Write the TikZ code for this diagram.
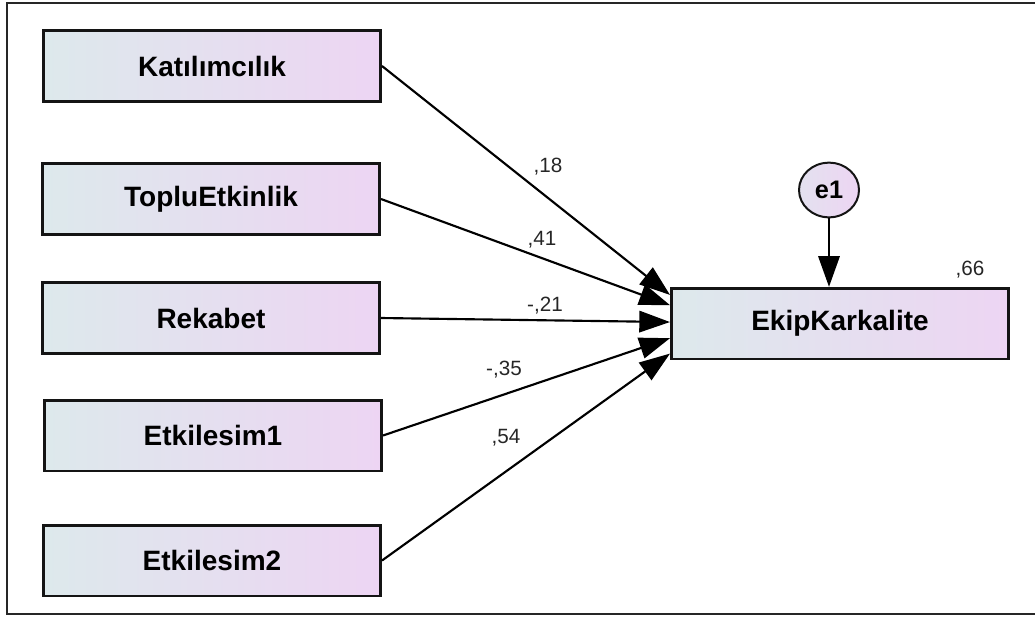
\documentclass[tikz,border=0pt]{standalone}
\usepackage{fontspec}
\setmainfont{Liberation Sans}
\usetikzlibrary{arrows.meta,shapes.geometric,calc}
\definecolor{boxleft}{RGB}{221,233,236}
\definecolor{boxright}{RGB}{237,213,243}
\definecolor{edgegray}{RGB}{20,20,20}

\begin{document}
\begin{tikzpicture}[x=0.75pt,y=-0.75pt,
	var/.style={draw=edgegray, line width=2pt, left color=boxleft, right color=boxright,
		minimum width=253pt, minimum height=53pt, inner sep=0pt, font=\fontsize{21}{24}\selectfont\bfseries},
	err/.style={ellipse, draw=edgegray, line width=1.5pt, left color=boxleft!60!boxright, right color=boxright,
		minimum width=45pt, minimum height=41pt, inner sep=0pt, font=\fontsize{19}{22}\selectfont\bfseries},
	coef/.style={inner sep=0pt, font=\fontsize{15.5}{18}\selectfont, text=black!85},
	path/.style={line width=1.6pt, -{Triangle[length=23pt,width=16pt]}}]
	\useasboundingbox (0,0) rectangle (1035,619);
	\draw[line width=1.1pt, black!85] (7,3) rectangle (1045,614);

	\node[var] (p1) at (212,66) {Katılımcılık};
	\node[var] (p2) at (211,199) {TopluEtkinlik};
	\node[var] (p3) at (211,318) {Rekabet};
	\node[var] (p4) at (213,435.5) {Etkilesim1};
	\node[var] (p5) at (212,560.5) {Etkilesim2};
	\node[var] (ekip) at (840,323.5) {EkipKarkalite};
	\node[err] (e1) at (829,190) {e1};

	\draw[path] (p1.east) -- ($(ekip.north west)!0.11!(ekip.south west)$);
	\draw[path] (p2.east) -- ($(ekip.north west)!0.25!(ekip.south west)$);
	\draw[path] (p3.east) -- ($(ekip.north west)!0.48!(ekip.south west)$);
	\draw[path] (p4.east) -- ($(ekip.north west)!0.70!(ekip.south west)$);
	\draw[path] (p5.east) -- ($(ekip.north west)!0.91!(ekip.south west)$);
	\draw[path] (e1.south) -- (e1.south |- ekip.north);

	\node[coef] (c1) at (548,167) {,18};
	\node[coef] (c2) at (542,240) {,41};
	\node[coef] (c3) at (545,306) {-,21};
	\node[coef] (c4) at (504,370) {-,35};
	\node[coef] (c5) at (506,438) {,54};
	\node[coef] (r2) at (970,270) {,66};
\end{tikzpicture}
\end{document}
